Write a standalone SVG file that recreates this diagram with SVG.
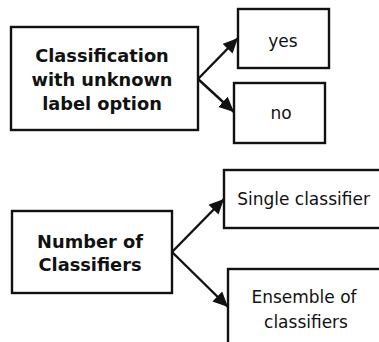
<svg xmlns="http://www.w3.org/2000/svg" width="379" height="342" viewBox="0 0 379 342">
<style>
.box{fill:#fff;stroke:#111;stroke-width:2.4}
.b{font-family:"DejaVu Sans",Verdana,sans-serif;font-weight:bold;font-size:17.8px;fill:#111;text-anchor:middle}
.r{font-family:"DejaVu Sans",Verdana,sans-serif;font-size:17px;fill:#111;text-anchor:middle}
.c{stroke:#111;stroke-width:2.4;fill:none}
</style>
<defs>
<marker id="ah" markerUnits="userSpaceOnUse" markerWidth="18" markerHeight="16" refX="15" refY="7" orient="auto">
<path d="M0,0 L15,7 L0,14 Z" fill="#111"/>
</marker>
</defs>
<rect width="379" height="342" fill="#fff"/>
<g id="connectors">
<line class="c" x1="198" y1="79" x2="238" y2="38" marker-end="url(#ah)"/>
<line class="c" x1="198" y1="79" x2="234" y2="112" marker-end="url(#ah)"/>
<line class="c" x1="172" y1="252" x2="224" y2="199" marker-end="url(#ah)"/>
<line class="c" x1="172" y1="252" x2="228" y2="307" marker-end="url(#ah)"/>
</g>
<g id="classification">
<rect class="box" x="11" y="27" width="187" height="103"/>
<text class="b" x="102" y="62">Classification</text>
<text class="b" x="102" y="86">with unknown</text>
<text class="b" x="102" y="110">label option</text>
</g>
<g id="yes">
<rect class="box" x="238" y="9" width="91" height="59"/>
<text class="r" x="283" y="47">yes</text>
</g>
<g id="no">
<rect class="box" x="234" y="83" width="91" height="60"/>
<text class="r" x="281" y="119">no</text>
</g>
<g id="number">
<rect class="box" x="12" y="211" width="160" height="82"/>
<text class="b" x="90" y="248">Number of</text>
<text class="b" x="90" y="271">Classifiers</text>
</g>
<g id="single">
<rect class="box" x="224" y="170" width="165" height="58"/>
<text class="r" x="303.5" y="205">Single classifier</text>
</g>
<g id="ensemble">
<rect class="box" x="228" y="269" width="165" height="80"/>
<text class="r" x="304" y="303">Ensemble of</text>
<text class="r" x="306" y="328">classifiers</text>
</g>
</svg>
